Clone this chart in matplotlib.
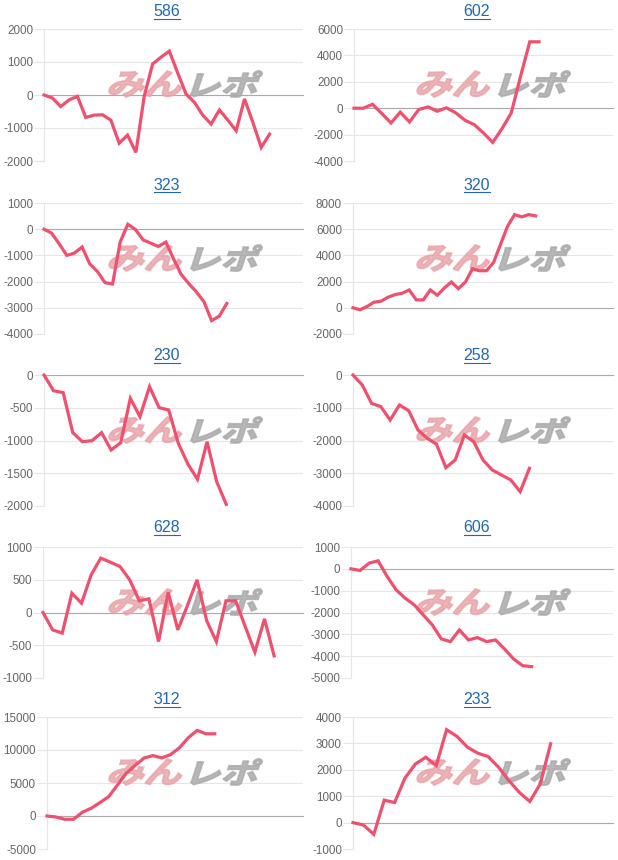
import numpy as np
import matplotlib
matplotlib.use("Agg")
import matplotlib.pyplot as plt
from matplotlib.textpath import TextPath
from matplotlib.patches import PathPatch
from matplotlib.path import Path
from matplotlib.font_manager import FontProperties

# ---------------- data ----------------
titles = ["586", "602", "323", "320", "230", "258", "628", "606", "312", "233"]

s586 = [0, -90, -350, -150, -40, -680, -610, -600, -760, -1460, -1215, -1740, -30, 940,
        1145, 1330, 670, 30, -220, -610, -880, -455, -760, -1085, -120, -830, -1590, -1185]
s602 = [0, 0, 300, -400, -1120, -300, -1040, -100, 100, -230, 30, -350, -915, -1245,
        -1880, -2590, -1550, -360, 2400, 5030, 5030]
s323 = [0, -150, -560, -1000, -910, -680, -1320, -1610, -2040, -2090, -490, 190, -10,
        -405, -530, -660, -490, -1130, -1720, -2075, -2390, -2770, -3490, -3320, -2835]
s320 = [0, -150, 100, 430, 505, 810, 1010, 1110, 1360, 605, 605, 1360, 960, 1510, 1970,
        1460, 1970, 2980, 2830, 2830, 3460, 4850, 6230, 7115, 6940, 7115, 7015]
s230 = [0, -240, -270, -880, -1018, -1003, -880, -1145, -1033, -356, -636, -178, -499,
        -534, -1043, -1359, -1593, -1018, -1628, -1975]
s258 = [0, -305, -865, -967, -1374, -916, -1089, -1679, -1934, -2117, -2830, -2595,
        -1832, -2036, -2595, -2901, -3053, -3206, -3562, -2850]
s628 = [0, -265, -315, 295, 142, 575, 830, 768, 702, 499, 178, 209, -443, 310, -265, 107,
        499, -127, -443, 178, 178, -214, -606, -97, -662]
s606 = [0, -75, 260, 367, -350, -963, -1345, -1651, -2110, -2569, -3211, -3333, -2798,
        -3257, -3150, -3333, -3257, -3670, -4128, -4434, -4480]
s312 = [0, -150, -500, -500, 560, 1170, 2030, 2950, 4730, 6510, 7680, 8800, 9150, 8800,
        9310, 10330, 11850, 12970, 12460, 12460]
s233 = [0, -90, -445, 850, 760, 1690, 2220, 2475, 2160, 3520, 3265, 2857, 2630, 2500,
        2095, 1590, 1143, 800, 1460, 2985]

series = [s586, s602, s323, s320, s230, s258, s628, s606, s312, s233]
x_spans = [31, 28, 34, 37, 27, 28, 27, 29, 29, 25]
y_ticks = [
    [-2000, -1000, 0, 1000, 2000],
    [-4000, -2000, 0, 2000, 4000, 6000],
    [-4000, -3000, -2000, -1000, 0, 1000],
    [-2000, 0, 2000, 4000, 6000, 8000],
    [-2000, -1500, -1000, -500, 0],
    [-4000, -3000, -2000, -1000, 0],
    [-1000, -500, 0, 500, 1000],
    [-5000, -4000, -3000, -2000, -1000, 0, 1000],
    [-5000, 0, 5000, 10000, 15000],
    [-1000, 0, 1000, 2000, 3000, 4000],
]

# ---------------- layout ----------------
W, H = 618, 860
fig = plt.figure(figsize=(W / 100, H / 100), dpi=100)
fig.patch.set_facecolor("white")

ax_lefts = [44, 354, 44, 353, 44, 353, 43, 351, 47, 353]
col_right = [303, 613]
col_wm = [107, 415]
rows = [(29, 161), (203, 334), (375, 506), (547, 678), (717, 849)]
title_y = [12, 185, 356, 528, 700]

LINE = "#f0506e"
GRID = "#e6e6e6"
TICKC = "#666666"
TITLEC = "#1f66b5"

fp_wm = FontProperties(family="Noto Sans CJK JP", weight="bold")


def glyph_patch(ax, text, x0, x1, ytop, ybot, color, alpha):
    tp = TextPath((0, 0), text, size=100, prop=fp_wm)
    verts = tp.vertices
    ext = tp.get_extents()
    h = ybot - ytop
    shear = np.tan(np.radians(18))
    w = (x1 - x0) - h * shear
    nx = (verts[:, 0] - ext.x0) / ext.width
    ny = (verts[:, 1] - ext.y0) / ext.height
    px = x0 + nx * w + ny * h * shear
    py = ybot - ny * h
    path = Path(np.column_stack([px / W, 1 - py / H]), tp.codes)
    patch = PathPatch(path, transform=fig.transFigure, facecolor=color,
                      edgecolor=color, linewidth=1.3, alpha=alpha, zorder=1)
    ax.add_patch(patch)


title_texts = []
for i, data in enumerate(series):
    r, c = divmod(i, 2)
    top, bot = rows[r]
    left = ax_lefts[i]
    right = col_right[c]
    ax = fig.add_axes([left / W, 1 - bot / H, (right - left) / W, (bot - top) / H])
    ax.set_facecolor("none")
    ax.set_axisbelow(True)
    xs = np.arange(len(data))
    ax.plot(xs, data, color=LINE, lw=2.3, solid_joinstyle="miter", zorder=3, clip_on=False)
    ax.set_xlim(0, x_spans[i])
    yt = y_ticks[i]
    ax.set_ylim(yt[0], yt[-1])
    ax.set_yticks(yt)
    ax.set_yticklabels([str(v) for v in yt])
    ax.set_xticks([])
    ax.grid(axis="y", color=GRID, lw=0.8)
    ax.tick_params(axis="y", length=7.2, width=0.8, color=GRID, pad=0.8,
                   labelsize=8.4, labelcolor=TICKC)
    for lbl in ax.get_yticklabels():
        lbl.set_fontfamily("Liberation Sans")
    for s in ["top", "right", "bottom"]:
        ax.spines[s].set_visible(False)
    ax.spines["left"].set_color(GRID)
    ax.spines["left"].set_linewidth(0.8)
    ax.axhline(0, color="#aaaaaa", lw=0.8, zorder=0.6, clip_on=False)

    # watermark
    wl = col_wm[c]
    glyph_patch(ax, "みん", wl, wl + 80, top + 42, top + 68, "#e8a2a7", 0.8)
    glyph_patch(ax, "レポ", wl + 83, wl + 156, top + 42, top + 68, "#ababab", 0.85)

    tx = col_right[c] - 259 / 2 - 6.5
    t = fig.text(tx / W, 1 - title_y[r] / H, titles[i], ha="center", va="center",
                 fontsize=11.5, color=TITLEC, family="Liberation Sans")
    title_texts.append(t)

fig.canvas.draw()
renderer = fig.canvas.get_renderer()
for t in title_texts:
    bb = t.get_window_extent(renderer)
    yline = bb.y0 + 0.5
    fig.add_artist(plt.Line2D([bb.x0 / W, bb.x1 / W], [yline / H, yline / H],
                              transform=fig.transFigure, color=TITLEC, lw=0.8))

fig.savefig("out.png", dpi=100, facecolor="white")
